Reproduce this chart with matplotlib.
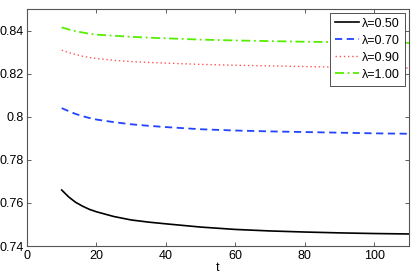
import matplotlib
matplotlib.use("Agg")
import matplotlib.pyplot as plt

plt.rcParams['font.family'] = ['Liberation Sans', 'DejaVu Sans']

t = [10, 12, 14, 16, 18, 20, 25, 30, 35, 40, 50, 60, 70, 80, 90, 100, 110]
y050 = [0.7660, 0.7628, 0.7603, 0.7585, 0.7570, 0.7559, 0.7537, 0.7521, 0.7511,
        0.7503, 0.7488, 0.7477, 0.7470, 0.7465, 0.7461, 0.7458, 0.7456]
y070 = [0.8040, 0.8026, 0.8013, 0.8003, 0.7994, 0.7987, 0.7975, 0.7965, 0.7958,
        0.7952, 0.7942, 0.7936, 0.7932, 0.7929, 0.7926, 0.7923, 0.7921]
y090 = [0.8309, 0.8298, 0.8289, 0.8281, 0.8275, 0.8270, 0.8262, 0.8256, 0.8252,
        0.8249, 0.8243, 0.8239, 0.8236, 0.8233, 0.8230, 0.8228, 0.8226]
y100 = [0.8415, 0.8405, 0.8397, 0.8391, 0.8385, 0.8381, 0.8376, 0.8371, 0.8367,
        0.8364, 0.8358, 0.8354, 0.8351, 0.8348, 0.8346, 0.8344, 0.8343]
labels = ['λ=0.50', 'λ=0.70', 'λ=0.90', 'λ=1.00']
xticks = [0, 20, 40, 60, 80, 100]
yticks = [0.74, 0.76, 0.78, 0.8, 0.82, 0.84]
yticklabels = ['0.74', '0.76', '0.78', '0.8', '0.82', '0.84']

fig = plt.figure(figsize=(4.15, 2.78), dpi=100)
ax = fig.add_axes([0.065, 0.115, 0.9205, 0.8526])

ax.plot(t, y050, color='black', lw=1.2, ls='-', label=labels[0])
ax.plot(t, y070, color='#2244ff', lw=1.3, ls=(0, (4, 2.5)), label=labels[1])
ax.plot(t, y090, color='#ff5555', lw=1.0, ls=(0, (1, 2)), label=labels[2])
ax.plot(t, y100, color='#55ee00', lw=1.3, ls=(0, (5, 2, 1, 2)), label=labels[3])

ax.set_xlim(0, 110)
ax.set_ylim(0.74, 0.85)
ax.set_xticks(xticks)
ax.set_yticks(yticks)
ax.set_yticklabels(yticklabels)
ax.tick_params(direction='in', top=True, right=True, labelsize=9, length=3,
               width=0.6, color='#444444', pad=2.5)
for s in ax.spines.values():
    s.set_color('#555555')
    s.set_linewidth(0.8)
ax.set_xlabel('t', fontsize=9, labelpad=0)

leg = ax.legend(loc='upper right', fontsize=9, frameon=True, fancybox=False,
                edgecolor='#333333', framealpha=1, borderpad=0.4,
                handlelength=1.85, handletextpad=0.3, labelspacing=0.4,
                borderaxespad=0.3)
leg.get_frame().set_linewidth(0.6)

fig.savefig('out.png', dpi=100)
